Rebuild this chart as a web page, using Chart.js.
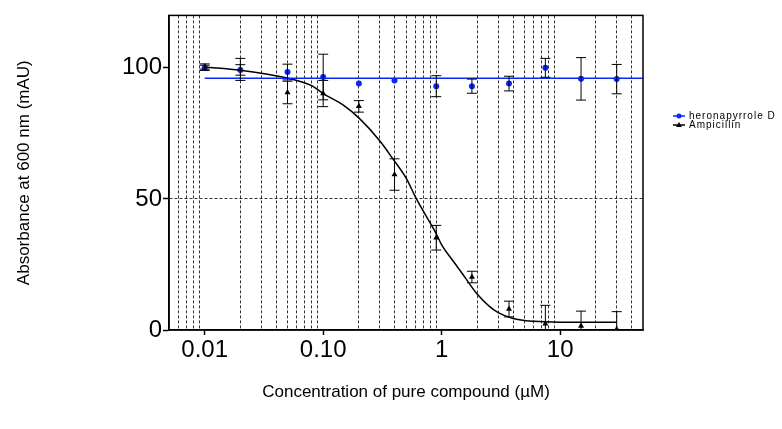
<!DOCTYPE html>
<html>
<head>
<meta charset="utf-8">
<title>Absorbance vs concentration</title>
<script src="https://cdn.jsdelivr.net/npm/chart.js@4.4.1/dist/chart.umd.min.js"></script>
<style>
  body { margin: 0; background: #fff; }
  #chart { display: block; }
</style>
</head>
<body>
<canvas id="chart" width="782" height="429"></canvas>
<script>
// concentrations tested (uM)
const conc = [0.01, 0.02, 0.05, 0.1, 0.2, 0.4, 0.9, 1.8, 3.7, 7.5, 15, 30];

// heronapyrrole D, mean and error
const heronMean = [100, 99.2, 98.4, 96.5, 94, 95.2, 93, 93, 94, 100, 95.8, 95.7];
const heronErr = [1, 2, 3, 8.7, 0, 0, 4, 2.7, 2.8, 3.6, 8.1, 5.6];

// Ampicillin, mean and error
const ampMean = [100.5, 99.4, 90.6, 90.2, 85.3, 59.3, 35.2, 20.2, 8, 2.4, 1.5, 0.3];
const ampErr = [1, 4.2, 4.3, 5, 2.2, 6, 4.7, 2.2, 3, 7, 5.7, 6.7];

// fitted lines
const heronFitX = [0.01, 50];
const heronFitY = [96, 96];
const ampFitX = [0.01, 0.02, 0.05, 0.08, 0.1, 0.15, 0.2, 0.3, 0.4, 0.5, 0.6, 0.7, 0.9, 1, 1.25, 1.6, 2, 2.5, 3, 4, 6, 10, 30];
const ampFitY = [100.3, 99.1, 96.1, 93.2, 90.2, 85.6, 80.9, 72.2, 64.4, 58, 50.8, 45.3, 36.7, 32.5, 26.3, 19.6, 13.6, 9.2, 6.6, 4.4, 3.3, 3.0, 3.0];

// axis ticks
const xMajorTicks = [0.01, 0.1, 1, 10];
const xTickLabels = ['0.01', '0.10', '1', '10'];
const xMinorTicks = [0.006, 0.007, 0.008, 0.009,
    0.02, 0.03, 0.04, 0.05, 0.06, 0.07, 0.08, 0.09,
    0.2, 0.3, 0.4, 0.5, 0.6, 0.7, 0.8, 0.9,
    2, 3, 4, 5, 6, 7, 8, 9,
    20, 30, 40];
const yTicks = [0, 50, 100];

const seriesNames = ['heronapyrrole D', 'Ampicillin'];

const BLUE = 'rgb(10, 40, 245)';
const FONT = "Arial, 'Liberation Sans', sans-serif";
const CLEAR = 'rgba(0,0,0,0)';

function toPoints(xs, ys) {
    return xs.map((x, i) => ({ x: x, y: ys[i] }));
}

// error bars, drawn through the chart scales
const errorBars = {
    id: 'errorBars',
    afterDatasetsDraw(chart) {
        const ctx = chart.ctx;
        const area = chart.chartArea;
        const xs = chart.scales.x;
        const ys = chart.scales.y;
        ctx.save();
        ctx.beginPath();
        ctx.rect(area.left, area.top, area.right - area.left, area.bottom - area.top);
        ctx.clip();
        ctx.strokeStyle = '#000';
        ctx.lineWidth = 1;
        chart.data.datasets.forEach(ds => {
            if (!ds.errors) return;
            ds.data.forEach((p, i) => {
                const e = ds.errors[i];
                if (!e) return;
                const px = xs.getPixelForValue(p.x);
                const top = ys.getPixelForValue(p.y + e);
                const bot = ys.getPixelForValue(p.y - e);
                ctx.beginPath();
                ctx.moveTo(px, top); ctx.lineTo(px, bot);
                ctx.moveTo(px - 5, top); ctx.lineTo(px + 5, top);
                ctx.moveTo(px - 5, bot); ctx.lineTo(px + 5, bot);
                ctx.stroke();
            });
        });
        ctx.restore();
    }
};

// box round the plot area
const frame = {
    id: 'frame',
    afterDraw(chart) {
        const a = chart.chartArea;
        const ctx = chart.ctx;
        ctx.save();
        ctx.strokeStyle = '#000';
        ctx.lineWidth = 1.5;
        ctx.strokeRect(a.left, a.top, a.right - a.left, a.bottom - a.top);
        ctx.restore();
    }
};

// small legend at the right, line + marker like the original
const sideLegend = {
    id: 'sideLegend',
    afterDraw(chart) {
        const ctx = chart.ctx;
        const items = [
            { text: seriesNames[0], color: BLUE, marker: 'circle', y: 116 },
            { text: seriesNames[1], color: '#000', marker: 'triangle', y: 125 }
        ];
        ctx.save();
        ctx.font = '10px ' + FONT;
        ctx.letterSpacing = '1px';
        ctx.textBaseline = 'middle';
        items.forEach(it => {
            ctx.strokeStyle = it.color;
            ctx.fillStyle = it.color;
            ctx.lineWidth = 1.5;
            ctx.beginPath();
            ctx.moveTo(673, it.y); ctx.lineTo(685, it.y);
            ctx.stroke();
            ctx.beginPath();
            if (it.marker === 'circle') {
                ctx.arc(679, it.y, 2.5, 0, Math.PI * 2);
            } else {
                ctx.moveTo(679, it.y - 3); ctx.lineTo(682, it.y + 2); ctx.lineTo(676, it.y + 2);
                ctx.closePath();
            }
            ctx.fill();
            ctx.fillStyle = '#000';
            ctx.fillText(it.text, 689, it.y);
        });
        ctx.restore();
    }
};

const ctx = document.getElementById('chart').getContext('2d');
const chart = new Chart(ctx, {
    type: 'scatter',
    data: {
        datasets: [
            {
                label: seriesNames[0] + ' fit',
                data: toPoints(heronFitX, heronFitY),
                showLine: true,
                borderColor: BLUE,
                borderWidth: 1.5,
                pointRadius: 0
            },
            {
                label: seriesNames[1] + ' fit',
                data: toPoints(ampFitX, ampFitY),
                showLine: true,
                cubicInterpolationMode: 'monotone',
                borderColor: '#000',
                borderWidth: 1.5,
                pointRadius: 0
            },
            {
                label: seriesNames[0],
                data: toPoints(conc, heronMean),
                errors: heronErr,
                pointStyle: 'circle',
                pointRadius: 3,
                backgroundColor: BLUE,
                borderColor: BLUE,
                borderWidth: 0
            },
            {
                label: seriesNames[1],
                data: toPoints(conc, ampMean),
                errors: ampErr,
                pointStyle: 'triangle',
                pointRadius: 3.5,
                backgroundColor: '#000',
                borderColor: '#000',
                borderWidth: 0
            }
        ]
    },
    options: {
        responsive: false,
        animation: false,
        devicePixelRatio: 1,
        layout: { padding: { left: 0, right: 139, top: 12, bottom: 0 } },
        plugins: {
            legend: { display: false },
            tooltip: { enabled: false }
        },
        scales: {
            x: {
                type: 'logarithmic',
                min: 0.005,
                max: 50,
                afterBuildTicks: function(scale) {
                    const all = xMinorTicks.concat(xMajorTicks).sort((a, b) => a - b);
                    scale.ticks = all.map(v => ({ value: v }));
                },
                afterFit: function(scale) { scale.height = 99; },
                grid: {
                    color: c => (c.tick && xMajorTicks.includes(c.tick.value)) ? CLEAR : '#000',
                    tickColor: c => (c.tick && xMajorTicks.includes(c.tick.value)) ? '#000' : CLEAR,
                    lineWidth: 0.8,
                    tickWidth: 1.5,
                    tickLength: 5
                },
                border: { color: '#000', width: 1.5, dash: [3, 2] },
                ticks: {
                    autoSkip: false,
                    maxRotation: 0,
                    minRotation: 0,
                    padding: 1,
                    color: '#000',
                    font: { family: FONT, size: 24 },
                    callback: function(value) {
                        const i = xMajorTicks.indexOf(value);
                        return i >= 0 ? xTickLabels[i] : '';
                    }
                },
                title: {
                    display: true,
                    text: 'Concentration of pure compound (µM)',
                    color: '#000',
                    font: { family: FONT, size: 17 },
                    padding: { top: 0, bottom: 26 }
                }
            },
            y: {
                min: 0,
                max: 120,
                afterBuildTicks: function(scale) {
                    scale.ticks = yTicks.map(v => ({ value: v }));
                },
                afterFit: function(scale) { scale.width = 169; },
                grid: {
                    color: c => (c.tick && c.tick.value === 50) ? '#000' : CLEAR,
                    tickColor: '#000',
                    lineWidth: 0.8,
                    tickWidth: 1.5,
                    tickLength: 6
                },
                border: { color: '#000', width: 1.5, dash: [3, 2] },
                ticks: {
                    padding: 1,
                    color: '#000',
                    font: { family: FONT, size: 24 }
                },
                title: {
                    display: true,
                    text: 'Absorbance at 600 nm (mAU)',
                    color: '#000',
                    font: { family: FONT, size: 17 },
                    padding: { top: 14, bottom: 0 }
                }
            }
        }
    },
    plugins: [errorBars, frame, sideLegend]
});
</script>
</body>
</html>
